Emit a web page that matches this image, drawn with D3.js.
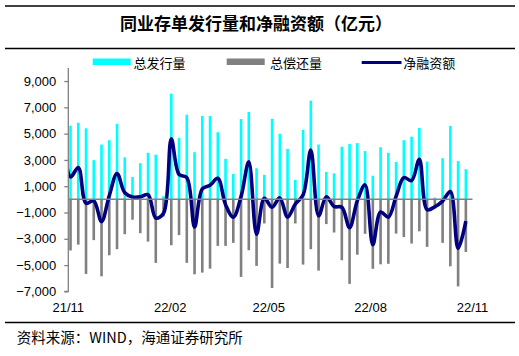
<!DOCTYPE html>
<html>
<head>
<meta charset="utf-8">
<script src="https://cdn.jsdelivr.net/npm/d3@7"></script>
<style>
html,body{margin:0;padding:0;background:#fff;}
svg{display:block;}
</style>
</head>
<body>
<svg id="chart" width="519" height="356"></svg>
<script>
// ---- data (亿元), weekly ----
const leadWeek = { date: "2021-10-27", net: 5800 }; // week before axis start (clipped)
const firstWeek = "2021-11-03";
const issuance = [5600,5830,5400,2980,4170,4500,5750,3200,1700,2750,3540,3400,250,8040,4680,6440,3590,6340,6340,5110,3080,1930,6110,6650,2370,1860,6130,4990,3840,1480,5290,7510,4170,2090,1980,4000,4220,4280,3670,1800,3970,3540,2840,4500,4770,5430,2870,140,3130,5590,2910,2290];
const repayment = [-3890,-3440,-5670,-3100,-5850,-4250,-3790,-2650,-1550,-2570,-3210,-4830,-1300,-3490,-2720,-4830,-5700,-5570,-5270,-3540,-3540,-3310,-5900,-3870,-5060,-1830,-6740,-4890,-5220,-1830,-4960,-3790,-5420,-1880,-2520,-4630,-6430,-4210,-2620,-5280,-4940,-4900,-2600,-2870,-3360,-2430,-3610,-700,-3310,-5090,-6620,-4000];
const netFinancing = [1710,2420,-290,-110,-1690,280,1970,500,180,190,360,-1420,-1060,4600,1900,1650,-2100,800,1080,1600,-400,-1350,210,2850,-2650,80,-590,110,-1350,-350,330,3750,-1250,200,-540,-600,-2150,-100,1100,-3450,-960,-1350,230,1650,1430,3050,-780,-560,-130,600,-3720,-1650];
const xTickDates = ["2021-11-01","2022-02-01","2022-05-01","2022-08-01","2022-11-01"];
const xTickLabels = ["21/11","22/02","22/05","22/08","22/11"];
const yTicks = [9000,7000,5000,3000,1000,-1000,-3000,-5000,-7000];
const seriesNames = ["总发行量","总偿还量","净融资额"];
const titleText = "同业存单发行量和净融资额（亿元）";
const sourceText = "资料来源：WIND，海通证券研究所";

(function () {
const svg = d3.select("#chart");
const parse = d3.utcParse("%Y-%m-%d");
const start = parse(firstWeek);
const dates = issuance.map((_, i) => d3.utcDay.offset(start, 7 * i));

const pL = 68.3, pR = 472.5, pT = 67.9, pB = 291.4;
const x = d3.scaleUtc().domain([parse(xTickDates[0]), parse(xTickDates[xTickDates.length - 1])]).range([pL, pR]);
const y = d3.scaleLinear().domain([-7000, 10000]).range([pB, pT]);

const CYAN = "#00FFFF", GRAY = "#808080", NAVY = "#000080";
const cjk = "'Noto Sans CJK SC', 'Noto Sans', sans-serif";
const latin = "'Liberation Sans', Arial, sans-serif";

// rules
[6, 48.5, 322.5].forEach(yy => {
  svg.append("line").attr("x1", 5).attr("x2", 515).attr("y1", yy).attr("y2", yy)
    .attr("stroke", "#000").attr("stroke-width", 1.3);
});

// title
svg.append("text").attr("x", 256).attr("y", 22).attr("text-anchor", "middle")
  .attr("dominant-baseline", "central")
  .style("font-family", cjk).style("font-weight", "bold").style("font-size", "17px")
  .attr("fill", "#000").text(titleText);

// legend
const lg = svg.append("g");
lg.append("rect").attr("x", 92.7).attr("y", 58.5).attr("width", 38).attr("height", 6.5).attr("fill", CYAN);
lg.append("text").attr("x", 133.5).attr("y", 62).attr("dominant-baseline", "central")
  .style("font-family", cjk).style("font-size", "13px").text(seriesNames[0]);
lg.append("rect").attr("x", 226.7).attr("y", 58.5).attr("width", 38).attr("height", 6.5).attr("fill", GRAY);
lg.append("text").attr("x", 270).attr("y", 62).attr("dominant-baseline", "central")
  .style("font-family", cjk).style("font-size", "13px").text(seriesNames[1]);
lg.append("line").attr("x1", 361.7).attr("x2", 401.5).attr("y1", 62.5).attr("y2", 62.5)
  .attr("stroke", NAVY).attr("stroke-width", 3);
lg.append("text").attr("x", 403.3).attr("y", 62).attr("dominant-baseline", "central")
  .style("font-family", cjk).style("font-size", "13px").text(seriesNames[2]);

// clip
svg.append("defs").append("clipPath").attr("id", "plotclip")
  .append("rect").attr("x", pL).attr("y", pT - 5).attr("width", pR - pL).attr("height", pB - pT + 10);

const plot = svg.append("g").attr("clip-path", "url(#plotclip)");
const bw = 2.6;

plot.selectAll("rect.iss").data(issuance).join("rect").attr("class", "iss")
  .attr("x", (d, i) => x(dates[i]) - bw / 2).attr("width", bw)
  .attr("y", d => y(Math.max(0, d))).attr("height", d => Math.abs(y(d) - y(0)))
  .attr("fill", CYAN);
plot.selectAll("rect.rep").data(repayment).join("rect").attr("class", "rep")
  .attr("x", (d, i) => x(dates[i]) - bw / 2).attr("width", bw)
  .attr("y", d => y(Math.max(0, d))).attr("height", d => Math.abs(y(d) - y(0)))
  .attr("fill", GRAY);

// zero line
svg.append("line").attr("x1", pL).attr("x2", pR).attr("y1", y(0)).attr("y2", y(0))
  .attr("stroke", GRAY).attr("stroke-width", 1.5);

// net line
const linePts = [{ date: parse(leadWeek.date), v: leadWeek.net }]
  .concat(netFinancing.map((v, i) => ({ date: dates[i], v })));
const lineGen = d3.line().x(d => x(d.date)).y(d => y(d.v)).curve(d3.curveCatmullRom.alpha(0.5));
plot.append("path").datum(linePts).attr("d", lineGen)
  .attr("fill", "none").attr("stroke", NAVY).attr("stroke-width", 3.6)
  .attr("stroke-linejoin", "round").attr("stroke-linecap", "butt");

// y axis
const yAxis = d3.axisLeft(y).tickValues(yTicks).tickSize(4).tickPadding(8)
  .tickFormat(d3.format(","));
const ga = svg.append("g").attr("transform", `translate(${pL},0)`).call(yAxis);
ga.select(".domain").attr("stroke", GRAY).attr("stroke-width", 1.3)
  .attr("d", `M-4,${y(-7000)}H0V${pT}`);
ga.selectAll(".tick line").attr("stroke", GRAY).attr("stroke-width", 1.3);
ga.selectAll(".tick text").style("font-family", latin).style("font-size", "13px").attr("fill", "#000");

// x labels
svg.selectAll("text.xl").data(xTickDates).join("text").attr("class", "xl")
  .attr("x", d => x(parse(d))).attr("y", 311.5).attr("text-anchor", "middle")
  .style("font-family", latin).style("font-size", "13px").attr("fill", "#000")
  .text((d, i) => xTickLabels[i]);

// source
svg.append("text").attr("x", 16.7).attr("y", 336.5).attr("dominant-baseline", "central")
  .style("font-family", cjk).style("font-size", "14.5px").attr("fill", "#000").text(sourceText);
})();
</script>
</body>
</html>
